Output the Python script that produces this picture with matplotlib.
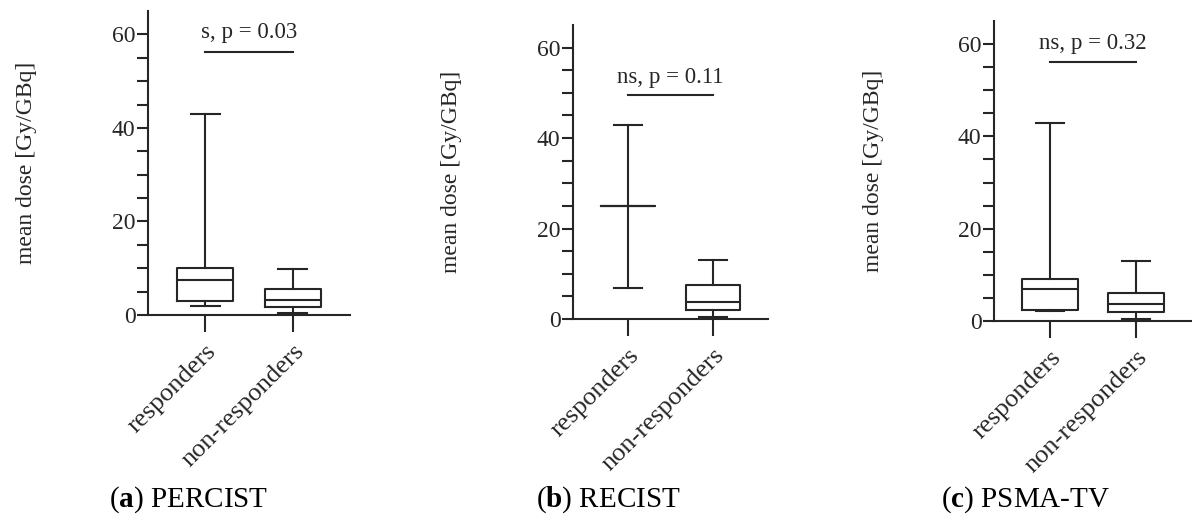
import matplotlib
matplotlib.use('Agg')
import matplotlib.pyplot as plt

# data (mean dose, Gy/GBq)
groups = ['responders', 'non-responders']

percist_lo = [2.0, 0.4]
percist_q1 = [2.9, 1.8]
percist_med = [7.4, 3.2]
percist_q3 = [10.0, 5.5]
percist_hi = [43.0, 9.9]

recist_lo = [6.8, 0.5]
recist_q1 = [24.9, 2.1]
recist_med = [24.9, 3.7]
recist_q3 = [24.9, 7.5]
recist_hi = [42.8, 13.1]

psma_lo = [2.2, 0.5]
psma_q1 = [2.45, 2.0]
psma_med = [6.9, 3.6]
psma_q3 = [9.1, 6.05]
psma_hi = [42.8, 13.0]

p_labels = ['s, p = 0.03', 'ns, p = 0.11', 'ns, p = 0.32']
bar_y = [56.3, 49.5, 56.1]
captions = [r'($\mathbf{a}$) PERCIST', r'($\mathbf{b}$) RECIST', r'($\mathbf{c}$) PSMA-TV']

plt.rcParams['font.family'] = ['Liberation Serif', 'DejaVu Serif']
plt.rcParams['mathtext.fontset'] = 'custom'
plt.rcParams['mathtext.rm'] = 'Liberation Serif'
plt.rcParams['mathtext.bf'] = 'Liberation Serif:bold'

INK = '#262626'
W, H = 1192, 525

# axes boxes in pixels: left, right, bottom(y from top), top(y from top)
boxes_px = [(148, 350, 315, 11), (573, 768, 319, 25), (994, 1192, 321, 21)]
caption_x = [189, 608, 1026]

panels = [
    (percist_lo, percist_q1, percist_med, percist_q3, percist_hi),
    (recist_lo, recist_q1, recist_med, recist_q3, recist_hi),
    (psma_lo, psma_q1, psma_med, psma_q3, psma_hi),
]

fig = plt.figure(figsize=(W / 100, H / 100), dpi=100)

for i, (lo, q1, med, q3, hi) in enumerate(panels):
    l, r, b, t = boxes_px[i]
    ax = fig.add_axes([l / W, (H - b) / H, (r - l) / W, (b - t) / H])

    stats = []
    for j, name in enumerate(groups):
        stats.append(dict(label=name, whislo=lo[j], q1=q1[j], med=med[j],
                          q3=q3[j], whishi=hi[j], fliers=[]))
    line = dict(color=INK, linewidth=1.5)
    ax.bxp(stats, positions=[1, 2], widths=0.64, capwidths=0.33, showfliers=False,
           boxprops=line, medianprops=line, whiskerprops=line, capprops=line)

    ax.set_xlim(0.35, 2.65)
    ax.set_ylim(0, 65)
    ax.set_yticks([0, 20, 40, 60])
    ax.set_yticks(range(0, 65, 5), minor=True)
    ax.set_xticks([1, 2])
    ax.set_xticklabels(groups, rotation=45, ha='right', rotation_mode='anchor',
                       fontsize=19, color=INK)

    for s in ['top', 'right']:
        ax.spines[s].set_visible(False)
    for s in ['left', 'bottom']:
        ax.spines[s].set_color(INK)
        ax.spines[s].set_linewidth(1.5)

    ax.tick_params(axis='y', which='both', length=8, width=1.5, color=INK,
                   labelsize=17, labelcolor=INK, pad=1)
    ax.tick_params(axis='x', length=12, width=1.5, color=INK, pad=6)

    ax.set_ylabel('mean dose [Gy/GBq]', fontsize=17, color=INK)
    ax.yaxis.label.set_va('center')
    ax.yaxis.set_label_coords(-121 / (r - l), 0.5)

    # significance bar
    ax.plot([1, 2], [bar_y[i], bar_y[i]], color=INK, linewidth=1.5, clip_on=False)
    ax.text(1.5, bar_y[i] + 4.0, p_labels[i], ha='center', va='center',
            fontsize=16.5, color=INK)

    fig.text(caption_x[i] / W, 1 - 500 / H, captions[i], ha='center', va='center',
             fontsize=21, color='black')

fig.savefig('out.png', dpi=100, facecolor='white')
